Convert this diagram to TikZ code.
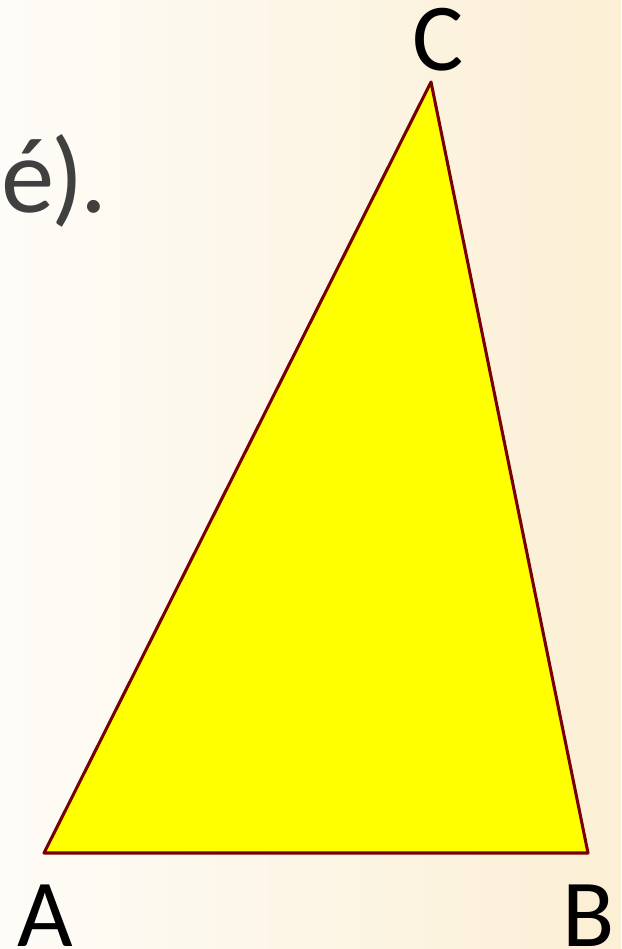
\documentclass[tikz,border=0pt]{standalone}
\usepackage{fontspec}
\setmainfont{Carlito}
\usepackage{tikz}
\usetikzlibrary{positioning, calc}
\definecolor{mymaroon}{RGB}{120,0,0}
\definecolor{myyellow}{RGB}{255,255,0}
\definecolor{mygrey}{RGB}{64,64,64}
\definecolor{bgleft}{RGB}{254,252,248}
\definecolor{bgright}{RGB}{251,239,212}
\tikzset{
  tri/.style={draw=mymaroon, fill=myyellow, line width=2.3pt, line join=round},
  vlabel/.style={font=\fontsize{72}{76}\selectfont, text=black,
    inner sep=0pt, anchor=base},
  cuttext/.style={font=\fontsize{80}{84}\selectfont, text=mygrey,
    inner sep=0pt, anchor=base east}
}

\begin{document}
\begin{tikzpicture}[x=0.75pt, y=-0.75pt]
  % Background
  \useasboundingbox (0,0) rectangle (621,949);
  \clip (0,0) rectangle (621,949);
  \shade[left color=bgleft, right color=bgright] (0,0) rectangle (621,949);
  % Cut text on the left
  \node[cuttext] (txt) at (108,212) {né\kern-0.03em)\kern-0.03em.};
  % Vertices
  \coordinate (A) at (44,853);
  \coordinate (B) at (588,853);
  \coordinate (C) at (431,82);
  \draw[tri] (A) -- (B) -- (C) -- cycle;
  % Labels
  \node[vlabel] (lA) at (45,946) {A};
  \node[vlabel] (lB) at (589,946) {B};
  \node[vlabel] (lC) at (438,70) {C};
\end{tikzpicture}
\end{document}
